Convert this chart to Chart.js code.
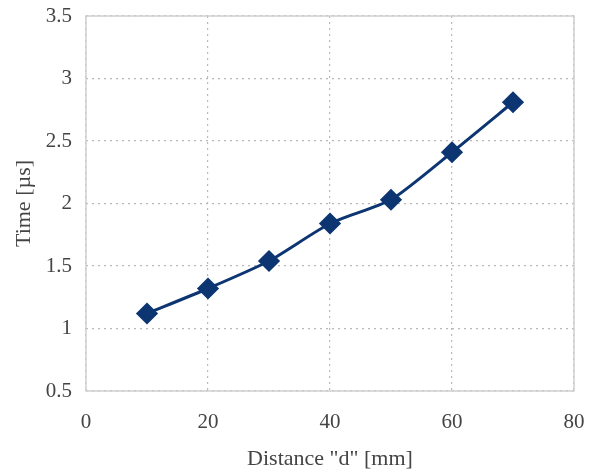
<!DOCTYPE html>
<html>
<head>
<meta charset="UTF-8">
<title>Time vs distance</title>
<script src="https://cdn.jsdelivr.net/npm/chart.js@4.4.3/dist/chart.umd.min.js"></script>
<style>
  html, body { margin: 0; padding: 0; background: #fff; }
  #wrap { width: 596px; height: 474px; }
</style>
</head>
<body>
<div id="wrap"><canvas id="chart"></canvas></div>
<script>
// distances [mm] and measured times [µs]
const distances = [10, 20, 30, 40, 50, 60, 70];
const times = [1.12, 1.32, 1.54, 1.84, 2.03, 2.41, 2.81];

const fontFam = '"Liberation Serif", "Times New Roman", serif';
const textColor = '#444';
const gridColor = '#b8b8b8';

// box around the plot area
const frame = {
    id: 'frame',
    beforeDatasetsDraw(chart) {
        const { ctx, chartArea: a } = chart;
        ctx.save();
        ctx.strokeStyle = '#cfcfcf';
        ctx.lineWidth = 1.5;
        ctx.strokeRect(a.left, a.top, a.right - a.left, a.bottom - a.top);
        ctx.restore();
    }
};

new Chart(document.getElementById('chart'), {
    type: 'line',
    data: {
        datasets: [{
            data: distances.map((d, i) => ({ x: d, y: times[i] })),
            borderColor: '#0c3572',
            backgroundColor: '#0c3572',
            borderWidth: 3,
            tension: 0.2,
            pointStyle: 'rectRot',
            pointRadius: 9,
            pointHoverRadius: 9
        }]
    },
    plugins: [frame],
    options: {
        responsive: true,
        maintainAspectRatio: false,
        animation: false,
        layout: { padding: { top: 16, right: 22, left: 0, bottom: 0 } },
        plugins: { legend: { display: false }, tooltip: { enabled: false } },
        scales: {
            x: {
                type: 'linear',
                min: 0, max: 80,
                afterFit(s) { s.height = 83; s.paddingLeft = 0; s.paddingRight = 0; },
                ticks: { stepSize: 20, padding: 19, color: textColor, font: { family: fontFam, size: 21 } },
                grid: { color: gridColor, drawTicks: false, lineWidth: 1.2 },
                border: { display: false, dash: [2, 4] },
                title: {
                    display: true, text: 'Distance "d" [mm]', color: textColor,
                    font: { family: fontFam, size: 22 }, padding: { top: 0, bottom: 2 }
                }
            },
            y: {
                min: 0.5, max: 3.5,
                afterFit(s) { s.width = 86; s.paddingTop = 0; s.paddingBottom = 0; },
                ticks: {
                    stepSize: 0.5, padding: 14, color: textColor,
                    font: { family: fontFam, size: 21 },
                    callback: v => String(v)
                },
                grid: { color: gridColor, drawTicks: false, lineWidth: 1.2 },
                border: { display: false, dash: [2, 4] },
                title: {
                    display: true, text: 'Time [µs]', color: textColor,
                    font: { family: fontFam, size: 22 }, padding: { top: 11, bottom: 0 }
                }
            }
        }
    }
});
</script>
</body>
</html>
